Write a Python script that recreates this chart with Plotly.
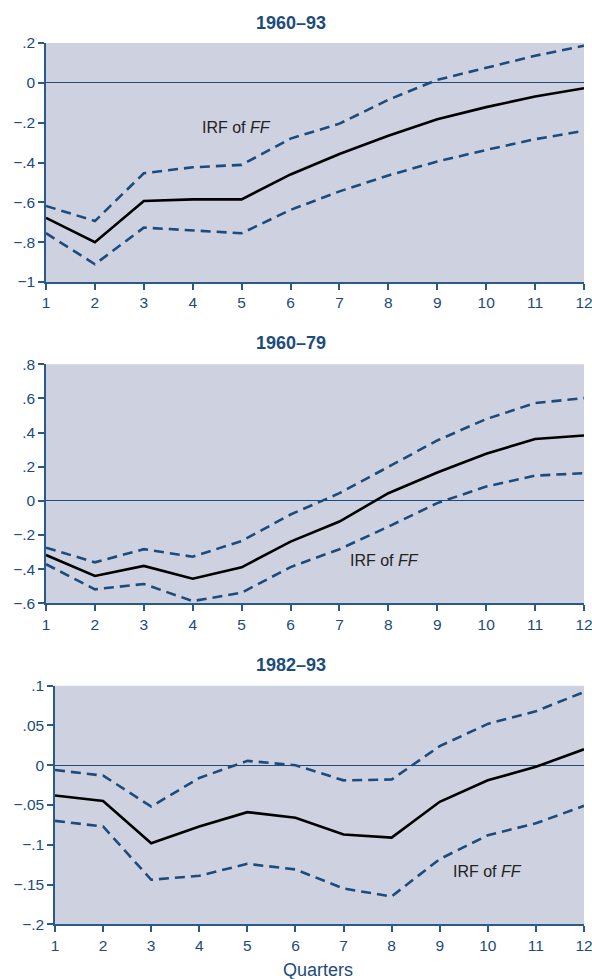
import plotly.graph_objects as go

quarters = list(range(1, 13))

# Panel 1: 1960-93
p1_irf = [-0.678, -0.80, -0.593, -0.585, -0.585, -0.46, -0.357, -0.266, -0.183, -0.122, -0.069, -0.027]
p1_up = [-0.618, -0.694, -0.454, -0.424, -0.412, -0.28, -0.205, -0.085, 0.015, 0.076, 0.136, 0.186]
p1_lo = [-0.755, -0.911, -0.727, -0.742, -0.755, -0.638, -0.545, -0.465, -0.395, -0.337, -0.283, -0.241]

# Panel 2: 1960-79
p2_irf = [-0.317, -0.44, -0.381, -0.456, -0.389, -0.239, -0.121, 0.045, 0.166, 0.276, 0.362, 0.383]
p2_up = [-0.274, -0.36, -0.283, -0.327, -0.235, -0.08, 0.045, 0.201, 0.354, 0.479, 0.573, 0.602]
p2_lo = [-0.371, -0.518, -0.487, -0.587, -0.538, -0.388, -0.283, -0.151, -0.013, 0.084, 0.148, 0.162]

# Panel 3: 1982-93
p3_irf = [-0.038, -0.045, -0.098, -0.077, -0.059, -0.066, -0.087, -0.091, -0.046, -0.019, -0.002, 0.020]
p3_up = [-0.006, -0.013, -0.052, -0.016, 0.0055, 0.0, -0.019, -0.018, 0.024, 0.052, 0.068, 0.092]
p3_lo = [-0.070, -0.077, -0.144, -0.139, -0.124, -0.131, -0.155, -0.165, -0.118, -0.088, -0.073, -0.051]

titles = ["1960\u201393", "1960\u201379", "1982\u201393"]
y1_ticks = [0.2, 0, -0.2, -0.4, -0.6, -0.8, -1]
y1_text = [".2", "0", "\u2212.2", "\u2212.4", "\u2212.6", "\u2212.8", "\u22121"]
y2_ticks = [0.8, 0.6, 0.4, 0.2, 0, -0.2, -0.4, -0.6]
y2_text = [".8", ".6", ".4", ".2", "0", "\u2212.2", "\u2212.4", "\u2212.6"]
y3_ticks = [0.1, 0.05, 0, -0.05, -0.1, -0.15, -0.2]
y3_text = [".1", ".05", "0", "\u2212.05", "\u2212.1", "\u2212.15", "\u2212.2"]

BLUE = "#1c4b7c"
AXIS = "#2a5a8a"
BG = "#ced2e0"
W, H = 592, 979

panels = [
    dict(irf=p1_irf, up=p1_up, lo=p1_lo, yr=[-1, 0.2], tv=y1_ticks, tt=y1_text,
         px=(46, 584), py=(43, 282), lab=(4.9, -0.226), ty=22.5),
    dict(irf=p2_irf, up=p2_up, lo=p2_lo, yr=[-0.6, 0.8], tv=y2_ticks, tt=y2_text,
         px=(46, 584), py=(364.3, 603.3), lab=(7.92, -0.35), ty=343),
    dict(irf=p3_irf, up=p3_up, lo=p3_lo, yr=[-0.2, 0.1], tv=y3_ticks, tt=y3_text,
         px=(55, 584), py=(685.7, 924.3), lab=(9.99, -0.134), ty=665),
]

fig = go.Figure()
font = "Liberation Sans, Arial, sans-serif"

for i, p in enumerate(panels):
    n = "" if i == 0 else str(i + 1)
    xa, ya = "x" + n, "y" + n
    for ys in (p["up"], p["lo"]):
        fig.add_trace(go.Scatter(x=quarters, y=ys, mode="lines", xaxis=xa, yaxis=ya,
                                 line=dict(color=BLUE, width=2.6, dash="10px,6px"),
                                 showlegend=False, hoverinfo="skip"))
    fig.add_trace(go.Scatter(x=quarters, y=p["irf"], mode="lines", xaxis=xa, yaxis=ya,
                             line=dict(color="black", width=2.6), showlegend=False))
    xdom = [p["px"][0] / W, p["px"][1] / W]
    ydom = [1 - p["py"][1] / H, 1 - p["py"][0] / H]
    fig.update_layout(**{
        "xaxis" + n: dict(domain=xdom, range=[1, 12], anchor=ya, tickvals=quarters,
                          ticks="outside", ticklen=6, tickwidth=1.5, tickcolor=AXIS,
                          showline=True, linecolor=AXIS, linewidth=1.5, showgrid=False,
                          zeroline=False, ticklabeloverflow="allow", automargin=False,
                          tickfont=dict(family=font, size=15.5, color=BLUE)),
        "yaxis" + n: dict(domain=ydom, range=p["yr"], anchor=xa, tickvals=p["tv"],
                          ticktext=p["tt"], ticks="outside", ticklen=6, tickwidth=1.5,
                          tickcolor=AXIS, showline=True, linecolor=AXIS, linewidth=1.5,
                          showgrid=False, zeroline=True, zerolinecolor=BLUE, zerolinewidth=1.3,
                          automargin=False,
                          tickfont=dict(family=font, size=15.5, color=BLUE)),
    })
    fig.add_shape(type="rect", xref="paper", yref="paper", x0=xdom[0], x1=xdom[1],
                  y0=ydom[0], y1=ydom[1], fillcolor=BG, line=dict(width=0), layer="below")
    fig.add_annotation(x=p["lab"][0], y=p["lab"][1], xref=xa, yref=ya,
                       xanchor="center", yanchor="middle",
                       text="IRF of <i>FF</i>", showarrow=False,
                       font=dict(family=font, size=16, color="#222222"))
    fig.add_annotation(x=290.5 / W, y=1 - p["ty"] / H, xref="paper", yref="paper",
                       xanchor="center", yanchor="middle",
                       text="<b>" + titles[i] + "</b>", showarrow=False,
                       font=dict(family=font, size=18, color=BLUE))

fig.add_annotation(x=318 / W, y=1 - 970 / H, xref="paper", yref="paper", text="Quarters",
                   xanchor="center", yanchor="middle",
                   showarrow=False, font=dict(family=font, size=18, color=BLUE))

fig.update_layout(width=W, height=H, margin=dict(l=0, r=0, t=0, b=0),
                  paper_bgcolor="white", plot_bgcolor="rgba(0,0,0,0)")

fig.write_html("out.html", config={"displayModeBar": False},
               post_script="document.body.style.margin='0px';document.body.style.overflow='hidden';")
